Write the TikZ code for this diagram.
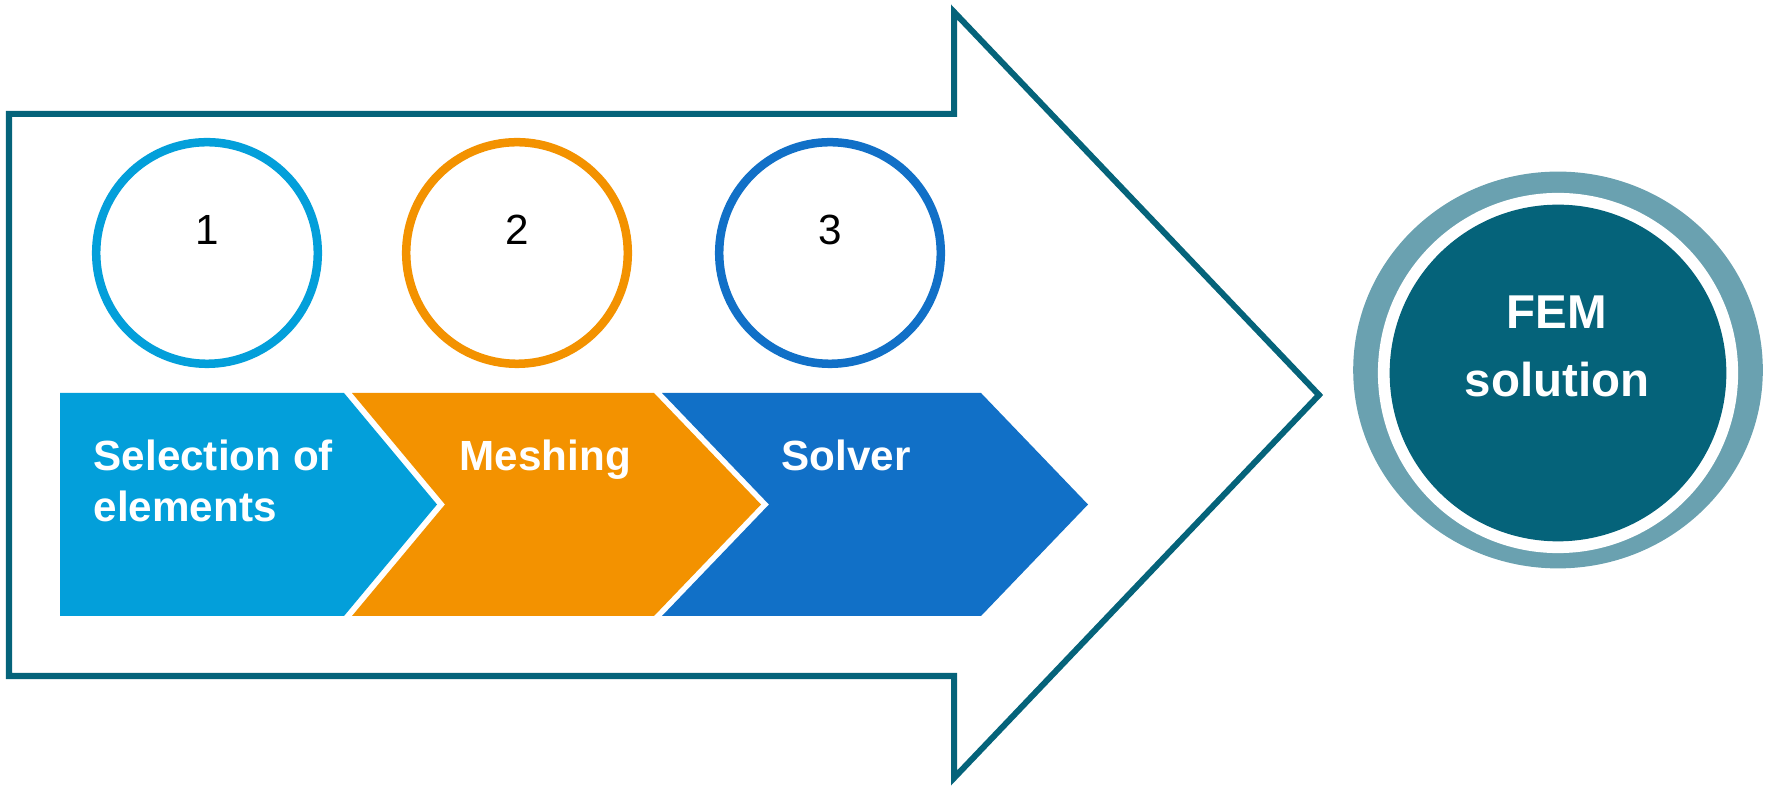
\documentclass[tikz,border=0pt]{standalone}
\usepackage{fontspec}
\setmainfont{Liberation Sans}
\usetikzlibrary{shapes.geometric}

\definecolor{deepteal}{RGB}{5,99,122}
\definecolor{paleteal}{RGB}{106,161,176}
\definecolor{skyblue}{RGB}{3,159,218}
\definecolor{amber}{RGB}{243,146,0}
\definecolor{royal}{RGB}{17,112,199}

\tikzset{
  px/.style={x=0.01cm, y=-0.01cm},
  outline/.style={draw=deepteal, line width=1.71pt, line join=miter},
  stepring/.style={circle, draw=#1, line width=2.42pt, fill=white,
                   minimum size=2.215cm, inner sep=0pt},
  numlabel/.style={font=\fontsize{12}{14.5}\selectfont, text=black,
                   inner sep=0pt, anchor=base},
  steplabel/.style={font=\fontsize{12}{14.5}\selectfont\bfseries, text=white,
                    inner sep=0pt, anchor=base west},
  femlabel/.style={font=\fontsize{13.5}{19.3}\selectfont\bfseries, text=white,
                   inner sep=0pt, anchor=base},
}

\begin{document}
\begin{tikzpicture}[px]
\useasboundingbox (0,0) rectangle (1767,786);

% large outlined process arrow
\draw[outline] (9,114) -- (954,114) -- (954,12) -- (1319,395)
               -- (954,778) -- (954,676) -- (9,676) -- cycle;

% the three chevron steps
\fill[skyblue] (60,393) -- (344,393) -- (437,504.5) -- (344,616)
               -- (60,616) -- cycle;
\fill[amber]   (352,393) -- (654,393) -- (761,504.5) -- (654,616)
               -- (352,616) -- (445,504.5) -- cycle;
\fill[royal]   (662,393) -- (981,393) -- (1088,504.5) -- (981,616)
               -- (662,616) -- (769,504.5) -- cycle;

\node[steplabel] (s1) at (93,471)
  {\begin{tabular}[t]{@{}l@{}}Selection of\\elements\end{tabular}};
\node[steplabel] (s2) at (459,471) {Meshing};
\node[steplabel] (s3) at (781,471) {Solver};

% numbered rings above the steps
\node[stepring=skyblue] (c1) at (207,253) {};
\node[stepring=amber]   (c2) at (517,253) {};
\node[stepring=royal]   (c3) at (830,253) {};
\node[numlabel] (n1) at (207,245) {1};
\node[numlabel] (n2) at (517,245) {2};
\node[numlabel] (n3) at (830,245) {3};

% result disc
\node[ellipse, fill=paleteal, minimum width=4.094cm, minimum height=3.966cm,
      inner sep=0pt] (femring) at (1558,370) {};
\node[circle, fill=white, minimum size=3.60cm, inner sep=0pt]
      (femgap) at (1558,373) {};
\node[circle, fill=deepteal, minimum size=3.365cm, inner sep=0pt]
      (fem) at (1558,373) {};
\node[femlabel] (femtext) at (1557,329)
  {\begin{tabular}[t]{@{}c@{}}FEM\\solution\end{tabular}};
\end{tikzpicture}
\end{document}
